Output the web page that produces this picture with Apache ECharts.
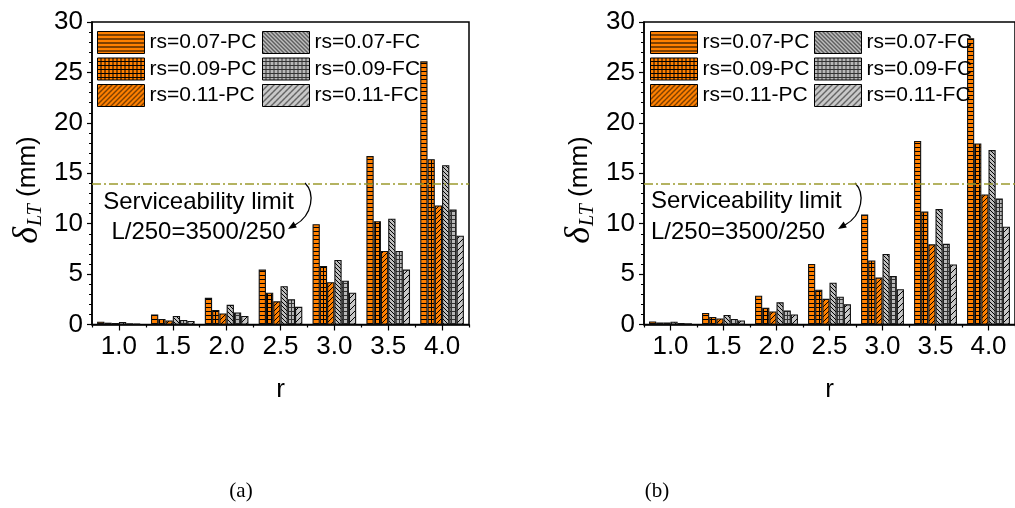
<!DOCTYPE html>
<html>
<head>
<meta charset="utf-8">
<script src="https://cdn.jsdelivr.net/npm/echarts@6/dist/echarts.min.js"></script>
<style>
html,body{margin:0;padding:0;background:#fff;}
#c{width:1015px;height:508px;}
</style>
</head>
<body>
<div id="c"></div>
<script>
// ---------- data ----------
const categories = ['1.0', '1.5', '2.0', '2.5', '3.0', '3.5', '4.0'];
const seriesNames = ['rs=0.07-PC', 'rs=0.09-PC', 'rs=0.11-PC', 'rs=0.07-FC', 'rs=0.09-FC', 'rs=0.11-FC'];
const yTicks = [0, 5, 10, 15, 20, 25, 30];
const limitValue = 14; // L/250 = 3500/250

// panel (a)
const pc07A = [0.28, 1.0, 2.65, 5.45, 9.95, 16.7, 26.1];
const pc09A = [0.18, 0.55, 1.45, 3.15, 5.8, 10.25, 16.4];
const pc11A = [0.15, 0.4, 1.1, 2.3, 4.2, 7.3, 11.8];
const fc07A = [0.25, 0.85, 1.95, 3.8, 6.4, 10.5, 15.8];
const fc09A = [0.12, 0.45, 1.2, 2.5, 4.35, 7.3, 11.4];
const fc11A = [0.1, 0.35, 0.85, 1.75, 3.15, 5.45, 8.8];

// panel (b)
const pc07B = [0.3, 1.15, 2.85, 6.0, 10.9, 18.2, 28.4];
const pc09B = [0.2, 0.75, 1.65, 3.45, 6.35, 11.2, 17.95];
const pc11B = [0.2, 0.6, 1.3, 2.55, 4.65, 7.95, 12.9];
const fc07B = [0.28, 0.95, 2.2, 4.15, 7.0, 11.45, 17.3];
const fc09B = [0.15, 0.55, 1.4, 2.75, 4.8, 8.0, 12.5];
const fc11B = [0.12, 0.4, 1.0, 2.0, 3.5, 5.95, 9.7];

// ---------- patterns ----------
function makePattern(bg, kind, step, lineColor) {
  const c = document.createElement('canvas');
  c.width = step; c.height = step;
  const ctx = c.getContext('2d');
  ctx.fillStyle = bg; ctx.fillRect(0, 0, step, step);
  ctx.fillStyle = lineColor;
  for (let x = 0; x < step; x++) {
    for (let y = 0; y < step; y++) {
      let on = false;
      if (kind === 'h') on = (y === step - 1);
      else if (kind === 'grid') on = (y === step - 1 || x === step - 1);
      else if (kind === 'fwd') on = ((x + y) % step === step - 1);
      else if (kind === 'back') on = (((x - y) % step + step) % step === 0);
      if (on) ctx.fillRect(x, y, 1, 1);
    }
  }
  return { image: c, repeat: 'repeat' };
}
const ORANGE = '#ff8000';
const patterns = [
  makePattern(ORANGE, 'h', 4, '#000'),
  makePattern(ORANGE, 'grid', 4, '#000'),
  makePattern(ORANGE, 'fwd', 5, '#000'),
  makePattern('#bdbdbd', 'back', 4, '#000'),
  makePattern('#b9b9b9', 'grid', 4, '#333'),
  makePattern('#c8c8c8', 'fwd', 6, '#000')
];

const dataA = [pc07A, pc09A, pc11A, fc07A, fc09A, fc11A];
const dataB = [pc07B, pc09B, pc11B, fc07B, fc09B, fc11B];

const FONT = 'Liberation Sans';

function mkGrid(left) {
  return { left: left, top: 22, width: 377, bottom: 183.5, show: true, borderColor: '#000', borderWidth: 1.5, backgroundColor: 'transparent' };
}
function mkX(gi) {
  return [{
    type: 'category', gridIndex: gi, data: categories, position: 'bottom',
    axisLine: { lineStyle: { color: '#000', width: 1.5 } },
    axisTick: { show: true, length: 3, alignWithLabel: false, lineStyle: { color: '#000', width: 1.2 } },
    axisLabel: { fontSize: 26, color: '#000', fontFamily: FONT, margin: 9 },
    name: 'r', nameLocation: 'middle', nameGap: 52,
    nameTextStyle: { fontSize: 26, color: '#000', fontFamily: FONT }
  }, {
    type: 'category', gridIndex: gi, data: categories, position: 'bottom',
    axisLine: { show: false },
    axisTick: { show: true, length: 6, alignWithLabel: true, lineStyle: { color: '#000', width: 1.2 } },
    axisLabel: { show: false }
  }];
}
function mkY(gi) {
  return {
    type: 'value', gridIndex: gi, min: yTicks[0], max: yTicks[yTicks.length - 1], interval: yTicks[1] - yTicks[0],
    axisLine: { show: true, lineStyle: { color: '#000', width: 1.5 } },
    axisTick: { show: true, length: 5, lineStyle: { color: '#000', width: 1.2 } },
    minorTick: { show: true, splitNumber: 5, length: 3, lineStyle: { color: '#000', width: 1 } },
    splitLine: { show: false },
    axisLabel: { fontSize: 26, color: '#000', fontFamily: FONT, margin: 9 }
  };
}

const series = [];
[dataA, dataB].forEach((set, gi) => {
  set.forEach((vals, i) => {
    const s = {
      type: 'bar', name: seriesNames[i], xAxisIndex: gi * 2, yAxisIndex: gi,
      data: vals, barGap: '0%', barCategoryGap: '19%',
      itemStyle: { color: patterns[i], borderColor: '#111', borderWidth: 1.1 },
      emphasis: { disabled: true }
    };
    if (i === 0) {
      s.markLine = {
        silent: true, symbol: 'none', z: 10,
        label: { show: false },
        lineStyle: { color: '#9c9a2e', width: 1.5, type: [9, 3, 2, 3] },
        data: [{ yAxis: limitValue }]
      };
    }
    series.push(s);
  });
});

function mkLegend(left, names) {
  return {
    left: left, top: 26, orient: 'vertical', data: names,
    itemWidth: 47, itemHeight: 22, itemGap: 3.5, icon: 'rect',
    selectedMode: false,
    itemStyle: { borderColor: '#000', borderWidth: 1 },
    textStyle: { fontSize: 21, color: '#000', fontFamily: FONT }
  };
}

function yName(x) {
  return {
    type: 'text', x: x, y: 190, rotation: Math.PI / 2,
    style: {
      text: '{d|δ}{s|LT}{m| (mm)}',
      align: 'center', verticalAlign: 'middle',
      rich: {
        d: { fontFamily: 'Liberation Serif', fontStyle: 'italic', fontSize: 36, fill: '#000' },
        s: { fontFamily: 'Liberation Serif', fontStyle: 'italic', fontSize: 20, fill: '#000', verticalAlign: 'bottom', padding: [15, 0, 0, 1] },
        m: { fontFamily: FONT, fontSize: 26, fill: '#000' }
      }
    }
  };
}
function annotText(x, y, txt, align) {
  return { type: 'text', x: x, y: y, style: { text: txt, font: '24px "Liberation Sans"', fill: '#000', align: align, verticalAlign: 'middle' } };
}
function arrow(dx) {
  return [{
    type: 'bezierCurve',
    shape: { x1: 305 + dx, y1: 183, cpx1: 315 + dx, cpy1: 193, cpx2: 313 + dx, cpy2: 215, x2: 295 + dx, y2: 225 },
    style: { stroke: '#000', lineWidth: 1.3, fill: null }
  }, {
    type: 'polygon',
    shape: { points: [[288 + dx, 229], [296.8 + dx, 227.6], [293.6 + dx, 221.6]] },
    style: { fill: '#000' }
  }];
}

const graphic = [
  yName(28), yName(580),
  annotText(198.5, 202, 'Serviceability limit', 'center'),
  annotText(198.5, 232, 'L/250=3500/250', 'center'),
  annotText(651, 201, 'Serviceability limit', 'left'),
  annotText(651, 232, 'L/250=3500/250', 'left'),
  ...arrow(0), ...arrow(550),
  { type: 'text', x: 241, y: 491, style: { text: '(a)', font: '21px "Liberation Serif"', fill: '#000', align: 'center', verticalAlign: 'middle' } },
  { type: 'text', x: 657, y: 491, style: { text: '(b)', font: '21px "Liberation Serif"', fill: '#000', align: 'center', verticalAlign: 'middle' } }
];

const chart = echarts.init(document.getElementById('c'), null, { renderer: 'canvas' });
chart.setOption({
  animation: false,
  backgroundColor: '#fff',
  grid: [mkGrid(92), mkGrid(644)],
  xAxis: [...mkX(0), ...mkX(1)],
  yAxis: [mkY(0), mkY(1)],
  legend: [
    mkLegend(92, seriesNames.slice(0, 3)), mkLegend(257, seriesNames.slice(3)),
    mkLegend(645, seriesNames.slice(0, 3)), mkLegend(809, seriesNames.slice(3))
  ],
  series: series,
  graphic: graphic
});
</script>
</body>
</html>
